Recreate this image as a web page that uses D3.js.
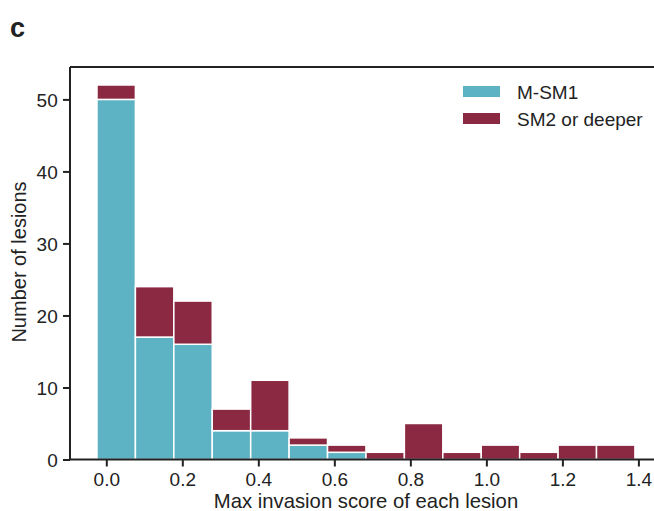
<!DOCTYPE html>
<html><head><meta charset="utf-8">
<script src="https://cdn.jsdelivr.net/npm/d3@7"></script>
<style>body{margin:0;background:#fff}svg text{font-family:"Liberation Sans",Arial,sans-serif;fill:#222}</style>
</head><body><svg id="c" width="654" height="511"></svg>
<script>
const binEdges = [-0.0245,0.0766,0.1777,0.2788,0.3799,0.4810,0.5821,0.6832,0.7843,0.8854,0.9865,1.0876,1.1887,1.2898,1.3909];
const msm1 =   [50,17,16,4,4,2,1,0,0,0,0,0,0,0];
const sm2 =    [2,7,6,3,7,1,1,1,5,1,2,1,2,2];
const xTicks = [0.0,0.2,0.4,0.6,0.8,1.0,1.2,1.4];
const yTicks = [0,10,20,30,40,50];
const seriesNames = ["M-SM1","SM2 or deeper"];
const colors = ["#5db3c4","#8b2942"];

const svg = d3.select("#c");
const x = d3.scaleLinear().domain([-0.0955,1.47]).range([70,665]);
const y = d3.scaleLinear().domain([0,54.5]).range([459.5,67]);

const bins = msm1.map((m,i)=>({x0:binEdges[i],x1:binEdges[i+1],m,s:sm2[i]}));
const g = svg.append("g");
g.selectAll("rect.a").data(bins.filter(d=>d.m>0)).join("rect")
 .attr("x",d=>x(d.x0)).attr("width",d=>x(d.x1)-x(d.x0))
 .attr("y",d=>y(d.m)).attr("height",d=>y(0)-y(d.m))
 .attr("fill",colors[0]).attr("stroke","#fff").attr("stroke-width",1.5);
g.selectAll("rect.b").data(bins.filter(d=>d.s>0)).join("rect")
 .attr("x",d=>x(d.x0)).attr("width",d=>x(d.x1)-x(d.x0))
 .attr("y",d=>y(d.m+d.s)).attr("height",d=>y(d.m)-y(d.m+d.s))
 .attr("fill",colors[1]).attr("stroke","#fff").attr("stroke-width",1.5);

const xa = svg.append("g").attr("transform",`translate(0,${y(0)})`)
 .call(d3.axisBottom(x).tickValues(xTicks).tickFormat(d3.format(".1f")).tickSize(7).tickSizeOuter(0));
const ya = svg.append("g").attr("transform",`translate(${x.range()[0]},0)`)
 .call(d3.axisLeft(y).tickValues(yTicks).tickSize(7).tickSizeOuter(0));
[xa,ya].forEach(a=>{a.select(".domain").attr("stroke","#222").attr("stroke-width",2);
 a.selectAll(".tick line").attr("stroke","#222").attr("stroke-width",2);
 a.selectAll(".tick text").attr("font-size",19).attr("fill","#222");});
xa.selectAll(".tick text").attr("y",9).attr("dy","0.92em");
ya.selectAll(".tick text").attr("dx","-0.12em").attr("dy","0.36em");
ya.select(".domain").attr("d",`M0,${y(0)}V${y.range()[1]}`);
xa.select(".domain").attr("d",`M${x.range()[0]},0H${x.range()[1]}`);
svg.append("line").attr("x1",x.range()[0]).attr("x2",x.range()[1]).attr("y1",y.range()[1]).attr("y2",y.range()[1]).attr("stroke","#222").attr("stroke-width",2);

svg.append("text").attr("x",366).attr("y",508).attr("text-anchor","middle").attr("font-size",20.3).text("Max invasion score of each lesion");
svg.append("text").attr("transform","translate(26,262) rotate(-90)").attr("text-anchor","middle").attr("font-size",20).text("Number of lesions");
svg.append("text").attr("x",10).attr("y",37).attr("font-size",27).attr("font-weight","bold").attr("fill","#000").text("c");

const leg = svg.append("g");
seriesNames.forEach((n,i)=>{
 leg.append("rect").attr("x",463).attr("y",86+i*27).attr("width",37).attr("height",11).attr("fill",colors[i]);
 leg.append("text").attr("x",517).attr("y",99+i*27).attr("font-size",19).text(n);
});
</script></body></html>
